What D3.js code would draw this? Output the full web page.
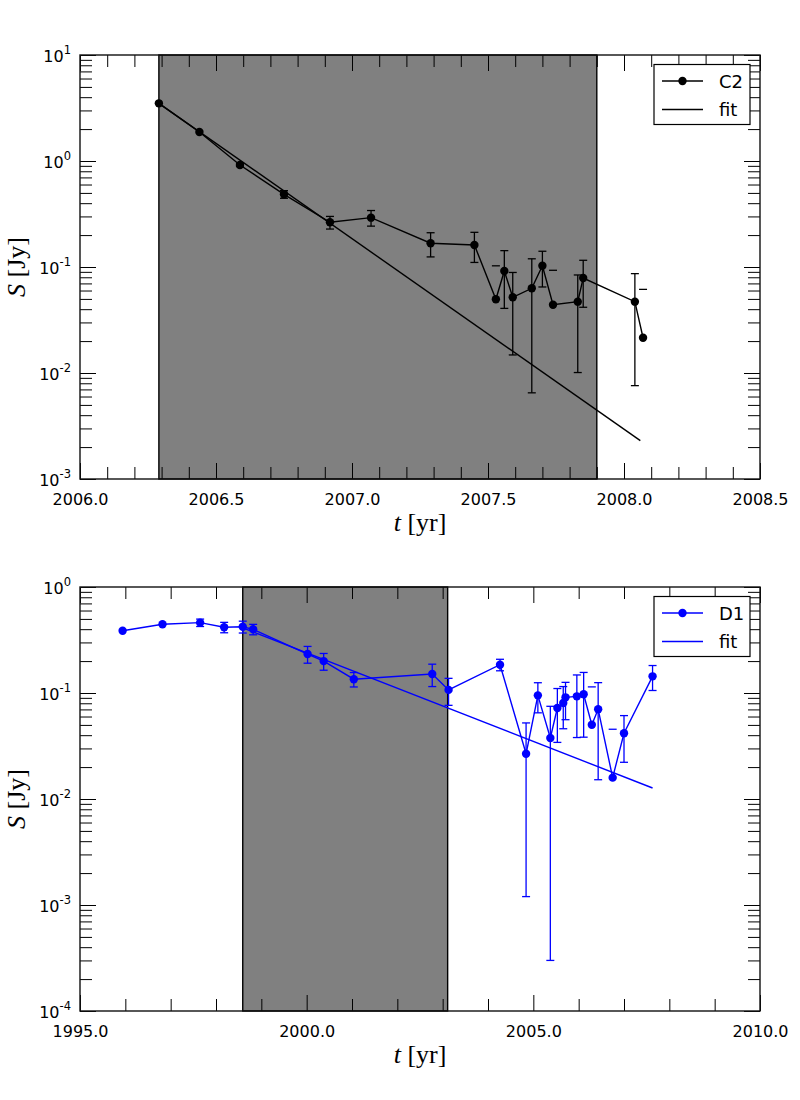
<!DOCTYPE html>
<html>
<head>
<meta charset="utf-8">
<script src="https://cdn.jsdelivr.net/npm/d3@7"></script>
<style>
  body { margin: 0; background: #fff; }
  text { font-family: "DejaVu Sans", sans-serif; fill: #000; }
  .math { font-family: "Liberation Serif", serif; }
</style>
</head>
<body>
<svg id="chart" width="800" height="1100"></svg>
<script>
// ── DATA ──────────────────────────────────────────────────────────────────

// C2 component (top panel)
const c2Years = [2006.29, 2006.439, 2006.588, 2006.75, 2006.919, 2007.07, 2007.289, 2007.45,
  2007.529, 2007.56, 2007.591, 2007.661, 2007.7, 2007.739, 2007.83, 2007.85, 2008.04, 2008.07];
const c2Flux = [3.5, 1.877, 0.917, 0.485, 0.264, 0.292, 0.1675, 0.1614,
  0.0496, 0.0917, 0.0518, 0.063, 0.1028, 0.0441, 0.0471, 0.0787, 0.0471, 0.0215];
const c2Err = [null, null, 0.03, 0.04, 0.036, 0.049, 0.043, 0.051,
  0.053, 0.051, 0.037, 0.0565, 0.038, 0.049, 0.037, 0.037, 0.0395, 0.04];
const c2FitYears = [2006.29, 2008.06];
const c2FitFlux = [3.5, 0.0023];
const c2Shade = [2006.29, 2007.9];
const c2XTicks = [2006.0, 2006.5, 2007.0, 2007.5, 2008.0, 2008.5];
const c2YExps = [-3, -2, -1, 0, 1];

// D1 component (bottom panel)
const d1Years = [1995.94, 1996.82, 1997.65, 1998.18, 1998.59, 1998.82, 2000.02, 2000.375, 2001.04,
  2002.77, 2003.13, 2004.265, 2004.84, 2005.1, 2005.375, 2005.53, 2005.66, 2005.71, 2005.96,
  2006.11, 2006.29, 2006.43, 2006.75, 2007.0, 2007.63];
const d1Flux = [0.387, 0.445, 0.461, 0.417, 0.422, 0.399, 0.233, 0.2, 0.135,
  0.151, 0.107, 0.185, 0.0267, 0.095, 0.0376, 0.0722, 0.0805, 0.091, 0.093,
  0.0973, 0.0502, 0.0702, 0.0159, 0.0417, 0.1436];
const d1Err = [null, null, 0.037, 0.047, 0.054, 0.045, 0.042, 0.036, 0.021,
  0.036, 0.0305, 0.023, 0.0255, 0.03, 0.0373, 0.038, 0.0345, 0.035, 0.055,
  0.059, 0.064, 0.055, 0.0296, 0.0195, 0.038];
const d1FitYears = [1998.59, 2007.63];
const d1FitFlux = [0.412, 0.0127];
const d1Shade = [1998.59, 2003.11];
const d1XTicks = [1995.0, 2000.0, 2005.0, 2010.0];
const d1YExps = [-4, -3, -2, -1, 0];

// ── CHART ─────────────────────────────────────────────────────────────────

const svg = d3.select("#chart");
svg.append("rect").attr("width", 800).attr("height", 1100).attr("fill", "#fff");

const left = 80, right = 760;
const majorLen = 16, minorLen = 12;

function drawPanel(p) {
  const g = svg.append("g");
  const x = d3.scaleLinear().domain([p.xTicks[0], p.xTicks[p.xTicks.length - 1]]).range([left, right]);
  const y = d3.scaleLog()
    .domain([10 ** p.yExps[0], 10 ** p.yExps[p.yExps.length - 1]])
    .range([p.bottom, p.top]);

  // shaded interval
  g.append("rect")
    .attr("x", x(p.shade[0]))
    .attr("y", p.top)
    .attr("width", x(p.shade[1]) - x(p.shade[0]))
    .attr("height", p.bottom - p.top)
    .attr("fill", "#808080")
    .attr("stroke", "#000")
    .attr("stroke-width", 1.4);

  // ticks on all four sides, pointing inward
  const majorY = p.yExps.map((e) => 10 ** e);
  const minorY = [];
  p.yExps.slice(0, -1).forEach((e) => {
    for (let m = 2; m <= 9; m++) minorY.push(m * 10 ** e);
  });
  const minorX = d3
    .range(x.domain()[0], x.domain()[1] + 1e-9, p.xMinorStep)
    .filter((v) => !p.xTicks.some((t) => Math.abs(t - v) < 1e-6));

  const tickAxes = [
    [d3.axisBottom(x).tickValues(p.xTicks).tickSize(-majorLen), `translate(0,${p.bottom})`],
    [d3.axisBottom(x).tickValues(minorX).tickSize(-minorLen), `translate(0,${p.bottom})`],
    [d3.axisTop(x).tickValues(p.xTicks).tickSize(-majorLen), `translate(0,${p.top})`],
    [d3.axisTop(x).tickValues(minorX).tickSize(-minorLen), `translate(0,${p.top})`],
    [d3.axisLeft(y).tickValues(majorY).tickSize(-majorLen), `translate(${left},0)`],
    [d3.axisLeft(y).tickValues(minorY).tickSize(-minorLen), `translate(${left},0)`],
    [d3.axisRight(y).tickValues(majorY).tickSize(-majorLen), `translate(${right},0)`],
    [d3.axisRight(y).tickValues(minorY).tickSize(-minorLen), `translate(${right},0)`],
  ];
  tickAxes.forEach(([axis, tr]) => {
    const a = g.append("g").attr("transform", tr).call(axis.tickFormat(""));
    a.select(".domain").remove();
    a.selectAll("line").attr("stroke", "#000").attr("stroke-width", 1);
  });

  // x tick labels
  const xAxis = g
    .append("g")
    .attr("transform", `translate(0,${p.bottom})`)
    .call(d3.axisBottom(x).tickValues(p.xTicks).tickSize(0).tickPadding(15).tickFormat(d3.format(".1f")));
  xAxis.select(".domain").remove();
  xAxis.selectAll("text").attr("font-size", 16).attr("font-family", null);

  // y tick labels as 10^n
  const yAxis = g
    .append("g")
    .attr("transform", `translate(${left},0)`)
    .call(d3.axisLeft(y).tickValues(majorY).tickSize(0).tickPadding(9).tickFormat(""));
  yAxis.select(".domain").remove();
  yAxis
    .selectAll("text")
    .attr("font-size", 16)
    .attr("font-family", null)
    .attr("dy", "0.4em")
    .each(function (d) {
      const t = d3.select(this);
      t.append("tspan").text("10");
      t.append("tspan")
        .attr("font-size", 11.5)
        .attr("dy", -8)
        .text(String(Math.round(Math.log10(d))));
    });

  // fit line
  const line = d3
    .line()
    .x((d) => x(d[0]))
    .y((d) => y(d[1]));
  g.append("path")
    .attr("d", line(d3.zip(p.fitYears, p.fitFlux)))
    .attr("fill", "none")
    .attr("stroke", p.color)
    .attr("stroke-width", 1.4);

  // error bars (masked when the lower end is not positive)
  const pts = d3.zip(p.years, p.flux, p.err);
  const eb = g.append("g").attr("stroke", p.color).attr("stroke-width", 1.3);
  pts.forEach(([yr, s, e]) => {
    if (e == null) return;
    const cx = x(yr);
    const yHi = y(s + e);
    if (s - e > 0) {
      const yLo = y(s - e);
      eb.append("line").attr("x1", cx).attr("x2", cx).attr("y1", yHi).attr("y2", yLo);
      eb.append("line").attr("x1", cx - 4).attr("x2", cx + 4).attr("y1", yLo).attr("y2", yLo);
    }
    eb.append("line").attr("x1", cx - 4).attr("x2", cx + 4).attr("y1", yHi).attr("y2", yHi);
  });

  // data line and markers
  g.append("path")
    .attr("d", line(pts))
    .attr("fill", "none")
    .attr("stroke", p.color)
    .attr("stroke-width", 1.4);
  g.append("g")
    .selectAll("circle")
    .data(pts)
    .join("circle")
    .attr("cx", (d) => x(d[0]))
    .attr("cy", (d) => y(d[1]))
    .attr("r", 4.2)
    .attr("fill", p.color);

  // frame
  g.append("rect")
    .attr("x", left)
    .attr("y", p.top)
    .attr("width", right - left)
    .attr("height", p.bottom - p.top)
    .attr("fill", "none")
    .attr("stroke", "#111")
    .attr("stroke-width", 1.4);

  // axis labels
  const xl = g
    .append("text")
    .attr("class", "math")
    .attr("x", (left + right) / 2)
    .attr("y", p.bottom + 52)
    .attr("text-anchor", "middle")
    .attr("font-size", 26);
  xl.append("tspan").attr("font-style", "italic").text("t");
  xl.append("tspan").text(" [yr]");

  const yl = g
    .append("text")
    .attr("class", "math")
    .attr("transform", `translate(25,${(p.top + p.bottom) / 2}) rotate(-90)`)
    .attr("text-anchor", "middle")
    .attr("font-size", 26);
  yl.append("tspan").attr("font-style", "italic").text("S");
  yl.append("tspan").text(" [Jy]");

  // legend
  const lg = g.append("g").attr("transform", `translate(654,${p.top + 9.5})`);
  lg.append("rect")
    .attr("width", 96)
    .attr("height", 60)
    .attr("fill", "#fff")
    .attr("stroke", "#000")
    .attr("stroke-width", 1.2);
  [
    { label: p.name, marker: true, dy: 16.5 },
    { label: "fit", marker: false, dy: 45 },
  ].forEach((row) => {
    lg.append("line")
      .attr("x1", 8)
      .attr("x2", 49)
      .attr("y1", row.dy)
      .attr("y2", row.dy)
      .attr("stroke", p.color)
      .attr("stroke-width", 1.4);
    if (row.marker)
      lg.append("circle").attr("cx", 28.5).attr("cy", row.dy).attr("r", 4.2).attr("fill", p.color);
    lg.append("text")
      .attr("x", 65)
      .attr("y", row.dy + 6.5)
      .attr("font-size", 18)
      .text(row.label);
  });
}

drawPanel({
  name: "C2",
  color: "#000",
  top: 55,
  bottom: 479,
  years: c2Years,
  flux: c2Flux,
  err: c2Err,
  fitYears: c2FitYears,
  fitFlux: c2FitFlux,
  shade: c2Shade,
  xTicks: c2XTicks,
  xMinorStep: 0.1,
  yExps: c2YExps,
});

drawPanel({
  name: "D1",
  color: "#0000ff",
  top: 587,
  bottom: 1011,
  years: d1Years,
  flux: d1Flux,
  err: d1Err,
  fitYears: d1FitYears,
  fitFlux: d1FitFlux,
  shade: d1Shade,
  xTicks: d1XTicks,
  xMinorStep: 1,
  yExps: d1YExps,
});
</script>
</body>
</html>
